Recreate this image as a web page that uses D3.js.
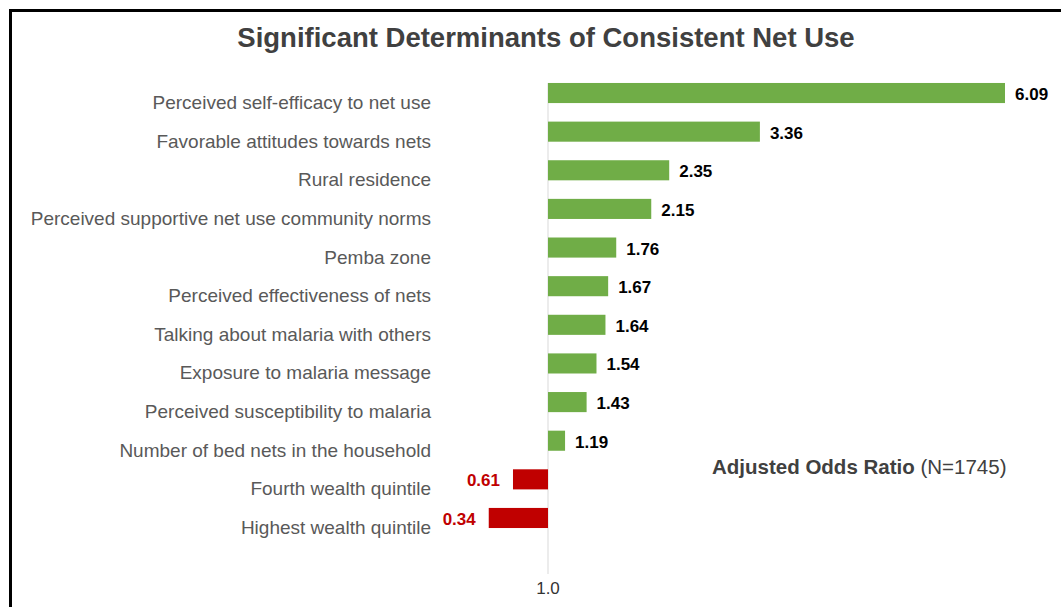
<!DOCTYPE html>
<html>
<head>
<meta charset="utf-8">
<script src="https://cdn.jsdelivr.net/npm/d3@7"></script>
<style>
  html, body { margin: 0; padding: 0; background: #fff; }
  svg { display: block; font-family: "Liberation Sans", Arial, sans-serif; }
</style>
</head>
<body>
<svg id="chart" width="1061" height="607"></svg>
<script>
// Determinants and their adjusted odds ratios
const categories = [
  "Perceived self-efficacy to net use",
  "Favorable attitudes towards nets",
  "Rural residence",
  "Perceived supportive net use community norms",
  "Pemba zone",
  "Perceived effectiveness of nets",
  "Talking about malaria with others",
  "Exposure to malaria message",
  "Perceived susceptibility to malaria",
  "Number of bed nets in the household",
  "Fourth wealth quintile",
  "Highest wealth quintile"
];
const oddsRatios = [6.09, 3.36, 2.35, 2.15, 1.76, 1.67, 1.64, 1.54, 1.43, 1.19, 0.61, 0.34];
const baselineValue = 1.0;
const baselineLabel = "1.0";
const titleText = "Significant Determinants of Consistent Net Use";
const noteBold = "Adjusted Odds Ratio";
const noteNormal = " (N=1745)";

const svg = d3.select("#chart");

// Outer frame (extends past the right and bottom edges)
svg.append("rect")
  .attr("x", 10.5).attr("y", 10.5)
  .attr("width", 1100).attr("height", 700)
  .attr("fill", "none").attr("stroke", "#000").attr("stroke-width", 3);

const x = d3.scaleLinear().domain([1, 6.09]).range([548, 1005]);
const y = d3.scaleBand().domain(categories).range([73.7, 537.3]).paddingInner(0.48).paddingOuter(0.24);

// Title
svg.append("text")
  .attr("x", 546).attr("y", 47)
  .attr("text-anchor", "middle")
  .attr("font-size", 27.5).attr("font-weight", "bold")
  .attr("fill", "#404040")
  .text(titleText);

// Reference line at OR = 1
svg.append("line")
  .attr("x1", x(baselineValue)).attr("x2", x(baselineValue))
  .attr("y1", 83).attr("y2", 574)
  .attr("stroke", "#d9d9d9").attr("stroke-width", 1);

// Bars
const rows = categories.map((c, i) => ({ c, v: oddsRatios[i] }));
svg.append("g").selectAll("rect")
  .data(rows).join("rect")
  .attr("x", d => x(Math.min(d.v, baselineValue)))
  .attr("y", d => y(d.c))
  .attr("width", d => Math.abs(x(d.v) - x(baselineValue)))
  .attr("height", y.bandwidth())
  .attr("fill", d => d.v >= baselineValue ? "#70ad47" : "#c00000");

// Category labels
svg.append("g").selectAll("text")
  .data(rows).join("text")
  .attr("x", 431)
  .attr("y", d => y(d.c) + y.bandwidth() / 2 + 16)
  .attr("text-anchor", "end")
  .attr("font-size", 19)
  .attr("fill", "#595959")
  .text(d => d.c);

// Value labels
svg.append("g").selectAll("text")
  .data(rows).join("text")
  .attr("x", d => d.v >= baselineValue ? x(d.v) + 10 : x(d.v) - 13)
  .attr("y", d => y(d.c) + y.bandwidth() / 2 + 7)
  .attr("text-anchor", d => d.v >= baselineValue ? "start" : "end")
  .attr("font-size", 17).attr("font-weight", "bold")
  .attr("fill", d => d.v >= baselineValue ? "#000" : "#c00000")
  .text(d => d3.format(".2f")(d.v));

// Axis label at the reference value
svg.append("text")
  .attr("x", x(baselineValue)).attr("y", 594)
  .attr("text-anchor", "middle")
  .attr("font-size", 17).attr("fill", "#333")
  .text(baselineLabel);

// Note
const note = svg.append("text")
  .attr("x", 712).attr("y", 474)
  .attr("font-size", 20.5).attr("fill", "#404040");
note.append("tspan").attr("font-weight", "bold").text(noteBold);
note.append("tspan").text(noteNormal);
</script>
</body>
</html>
